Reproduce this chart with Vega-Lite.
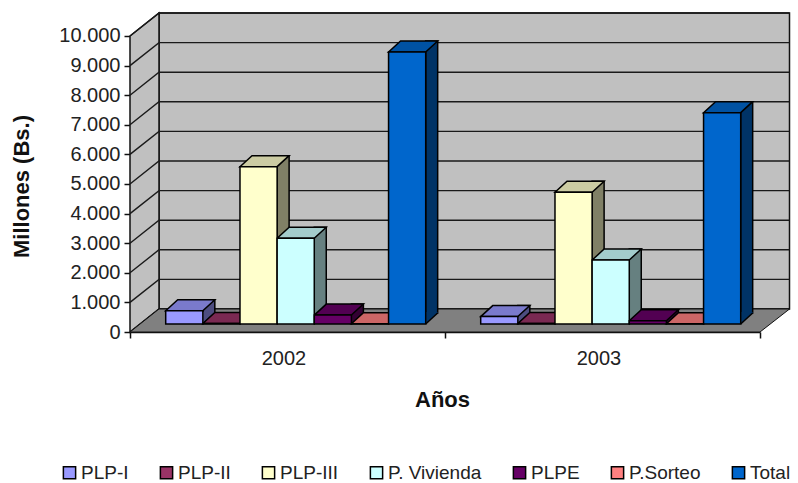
{
"$schema":"https://vega.github.io/schema/vega-lite/v6.json",
"width":660,"height":319,
"autosize":{"type":"none"},
"padding":{"left":130,"top":13,"right":8,"bottom":151},
"background":"white",
"config":{"font":"Liberation Sans","view":{"stroke":null}},
"datasets":{
"bars":[
{"year":"2002","serie":"PLP-I","value":450},
{"year":"2002","serie":"PLP-II","value":20},
{"year":"2002","serie":"PLP-III","value":5315},
{"year":"2002","serie":"P. Vivienda","value":2895},
{"year":"2002","serie":"PLPE","value":300},
{"year":"2002","serie":"P.Sorteo","value":10},
{"year":"2002","serie":"Total","value":9190},
{"year":"2003","serie":"PLP-I","value":250},
{"year":"2003","serie":"PLP-II","value":20},
{"year":"2003","serie":"PLP-III","value":4450},
{"year":"2003","serie":"P. Vivienda","value":2160},
{"year":"2003","serie":"PLPE","value":110},
{"year":"2003","serie":"P.Sorteo","value":10},
{"year":"2003","serie":"Total","value":7140}
],
"ticks":[{"tick":0},{"tick":1000},{"tick":2000},{"tick":3000},{"tick":4000},{"tick":5000},{"tick":6000},{"tick":7000},{"tick":8000},{"tick":9000},{"tick":10000}],
"base":[{"tick":0}]
},
"encoding":{
"x":{"field":"year","type":"nominal","scale":{"range":[0,630],"paddingInner":0,"paddingOuter":0},
"axis":{"title":"Años","titleFontSize":22,"titleFontWeight":"bold","titleColor":"#111","titleX":312,"titleY":57,"labelFontSize":20,"labelColor":"#222","labelAngle":0,"labelPadding":10,"labelOffset":-4,"tickBand":"extent","tickSize":6,"tickColor":"#111","tickWidth":1.5,"domainColor":"#111","domainWidth":1.5,"grid":false}},
"y":{"field":"value","type":"quantitative","scale":{"domain":[0,10777],"nice":false},
"axis":{"title":"Millones (Bs.)","titleFontSize":22,"titleFontWeight":"bold","titleColor":"#111","titleX":-97,"titleY":173,"labelFontSize":20,"labelColor":"#222","labelPadding":4,"values":[0,1000,2000,3000,4000,5000,6000,7000,8000,9000,10000],"labelExpr":"replace(format(datum.value,','),',','.')","tickSize":6,"tickColor":"#111","tickWidth":1.5,"domain":false,"grid":false}}
},
"resolve":{"scale":{"fill":"independent","xOffset":"independent"}},
"layer":[
{"data":{"name":"base"},
 "mark":{"type":"point","filled":true,"opacity":1,"size":4,"fill":"#C0C0C0","stroke":"#111","strokeWidth":1.5,"shape":"M-128.5,-23L502,-23L502,-319L-128.5,-319Z"},
 "encoding":{"x":{"datum":"2002"},"y":{"field":"tick","type":"quantitative"}}},
{"data":{"name":"base"},
 "mark":{"type":"point","filled":true,"opacity":1,"size":4,"fill":"#C0C0C0","stroke":"#111","strokeWidth":1.5,"shape":"M-157.5,0L-128.5,-23L-128.5,-319L-157.5,-296Z"},
 "encoding":{"x":{"datum":"2002"},"y":{"field":"tick","type":"quantitative"}}},
{"data":{"name":"ticks"},
 "mark":{"type":"point","filled":false,"opacity":1,"size":4,"stroke":"#1a1a1a","strokeWidth":1.4,"shape":"M-157.5,0L-128.5,-23L502,-23"},
 "encoding":{"x":{"datum":"2002"},"y":{"field":"tick","type":"quantitative"}}},
{"data":{"name":"base"},
 "mark":{"type":"point","filled":true,"opacity":1,"size":4,"fill":"#808080","stroke":"#111","strokeWidth":1,"shape":"M-157.5,0L472.5,0L502,-23L-128.5,-23Z"},
 "encoding":{"x":{"datum":"2002"},"y":{"field":"tick","type":"quantitative"}}},
{"data":{"name":"bars"},
 "mark":{"type":"bar","width":12,"yOffset":-19,"stroke":"#000","strokeWidth":1.5},
 "encoding":{
  "xOffset":{"field":"serie","type":"nominal","sort":null,"scale":{"domain":["PLP-I","PLP-II","PLP-III","P. Vivienda","PLPE","P.Sorteo","Total"],"range":[60.25,320.25],"paddingInner":0,"paddingOuter":0}},
  "fill":{"field":"serie","type":"nominal","legend":null,"scale":{"domain":["PLP-I","PLP-II","PLP-III","P. Vivienda","PLPE","P.Sorteo","Total"],"range":["#4D4D80","#4D1A33","#808066","#668080","#330033","#804040","#003366"]}}}},
{"data":{"name":"bars"},
 "mark":{"type":"point","filled":true,"opacity":1,"size":4,"yOffset":-8,"strokeWidth":0,"shape":"M18.55,0L30.55,-11L30.55,-12L18.55,-12Z"},
 "encoding":{
  "xOffset":{"field":"serie","type":"nominal","sort":null,"scale":{"type":"band","domain":["PLP-I","PLP-II","PLP-III","P. Vivienda","PLPE","P.Sorteo","Total"],"range":[35.7,295.7],"paddingInner":0,"paddingOuter":0}},
  "y":{"datum":0},
  "fill":{"field":"serie","type":"nominal","legend":null,"scale":{"domain":["PLP-I","PLP-II","PLP-III","P. Vivienda","PLPE","P.Sorteo","Total"],"range":["#4D4D80","#4D1A33","#808066","#668080","#330033","#804040","#003366"]}}}},
{"data":{"name":"bars"},
 "mark":{"type":"point","filled":false,"opacity":1,"size":4,"yOffset":-8,"stroke":"#000","strokeWidth":1.5,"shape":"M18.55,0L30.55,-11"},
 "encoding":{
  "xOffset":{"field":"serie","type":"nominal","sort":null,"scale":{"type":"band","domain":["PLP-I","PLP-II","PLP-III","P. Vivienda","PLPE","P.Sorteo","Total"],"range":[35.7,295.7],"paddingInner":0,"paddingOuter":0}},
  "y":{"datum":0}}},
{"data":{"name":"bars"},
 "mark":{"type":"point","filled":true,"opacity":1,"size":4,"yOffset":-8,"stroke":"#000","strokeWidth":1.5,"shape":"M-18.55,0L18.55,0L30.55,-11L-6.55,-11Z"},
 "encoding":{
  "xOffset":{"field":"serie","type":"nominal","sort":null,"scale":{"type":"band","domain":["PLP-I","PLP-II","PLP-III","P. Vivienda","PLPE","P.Sorteo","Total"],"range":[35.7,295.7],"paddingInner":0,"paddingOuter":0}},
  "fill":{"field":"serie","type":"nominal","legend":null,"scale":{"domain":["PLP-I","PLP-II","PLP-III","P. Vivienda","PLPE","P.Sorteo","Total"],"range":["#7A7ACC","#7A2952","#CCCCA3","#A3CCCC","#520052","#CC6666","#0052A3"]}}}},
{"data":{"name":"bars"},
 "mark":{"type":"bar","yOffset":-8,"stroke":"#000","strokeWidth":1.5},
 "encoding":{
  "xOffset":{"field":"serie","type":"nominal","sort":null,"scale":{"domain":["PLP-I","PLP-II","PLP-III","P. Vivienda","PLPE","P.Sorteo","Total"],"range":[35.7,295.7],"paddingInner":0,"paddingOuter":0}},
  "fill":{"field":"serie","type":"nominal","scale":{"domain":["PLP-I","PLP-II","PLP-III","P. Vivienda","PLPE","P.Sorteo","Total"],"range":["#9999FF","#993366","#FFFFCC","#CCFFFF","#660066","#FF8080","#0066CC"]},
   "legend":{"title":null,"orient":"none","legendX":-70,"legendY":450,"direction":"horizontal","columns":7,"symbolType":"square","symbolSize":150,"symbolStrokeColor":"#000","symbolStrokeWidth":1.5,"labelFontSize":19,"labelColor":"#222","labelOffset":2,"columnPadding":28,"labelLimit":200}}}}
]
}
